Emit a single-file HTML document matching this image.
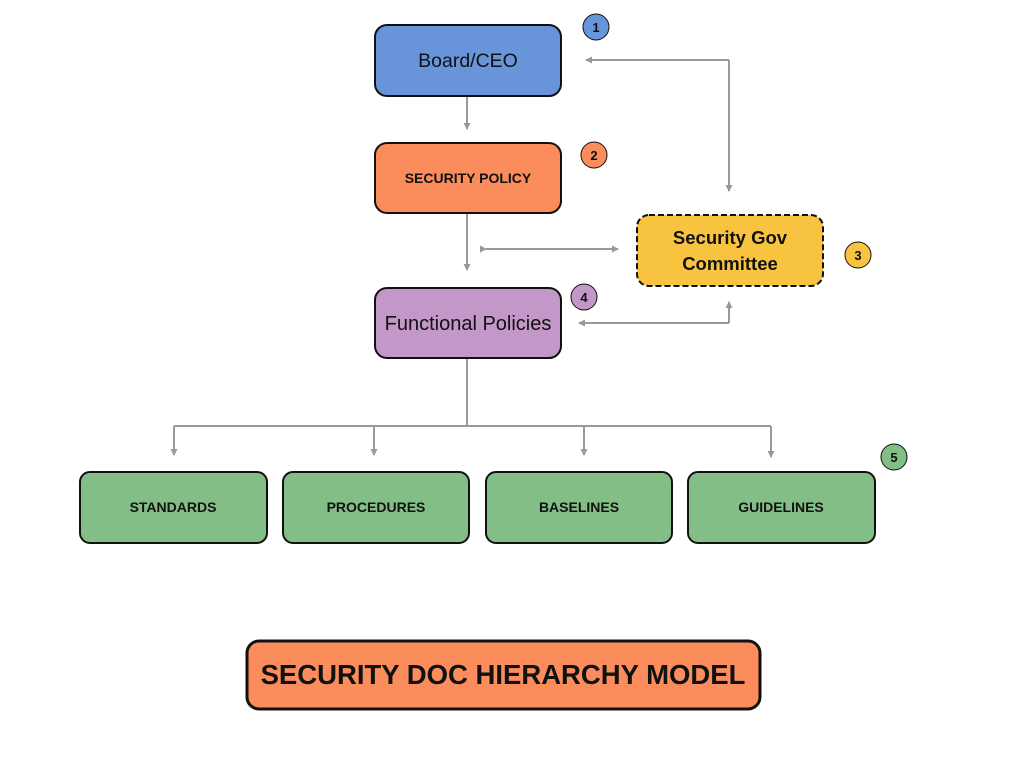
<!DOCTYPE html>
<html><head><meta charset="utf-8"><style>
body{margin:0;width:1024px;height:768px;background:#fff;overflow:hidden}
svg text{font-family:"Liberation Sans",sans-serif}
</style></head><body>
<svg width="1024" height="768" viewBox="0 0 1024 768" xmlns="http://www.w3.org/2000/svg">
<defs><marker id="a" markerWidth="8" markerHeight="8" refX="6" refY="4" orient="auto" markerUnits="userSpaceOnUse"><path d="M0,0.5 L7,4 L0,7.5 z" fill="#999"/></marker></defs>
<g stroke="#999" stroke-width="2" fill="none">
<path d="M467 97 V129" marker-end="url(#a)"/>
<path d="M467 214 V270" marker-end="url(#a)"/>
<path d="M729 60 H586" marker-end="url(#a)"/>
<path d="M729 60 V191" marker-end="url(#a)"/>
<path d="M486 249 H618" marker-end="url(#a)" marker-start="url(#a)"/>
<path d="M729 323 H579" marker-end="url(#a)"/>
<path d="M729 323 V302" marker-end="url(#a)"/>
<path d="M467 359 V426 M174 426 H771"/>
<path d="M174 426 V455" marker-end="url(#a)"/>
<path d="M374 426 V455" marker-end="url(#a)"/>
<path d="M584 426 V455" marker-end="url(#a)"/>
<path d="M771 426 V457" marker-end="url(#a)"/>
</g>
<g stroke="#111" stroke-width="2">
<rect x="375" y="25" width="186" height="71" rx="12" fill="#6895d9"/>
<rect x="375" y="143" width="186" height="70" rx="12" fill="#fb8c5c"/>
<rect x="637" y="215" width="186" height="71" rx="12" fill="#f8c43f" stroke-dasharray="6,3"/>
<rect x="375" y="288" width="186" height="70" rx="12" fill="#c397c7"/>
<rect x="80" y="472" width="187" height="71" rx="10" fill="#83be86"/>
<rect x="283" y="472" width="186" height="71" rx="10" fill="#83be86"/>
<rect x="486" y="472" width="186" height="71" rx="10" fill="#83be86"/>
<rect x="688" y="472" width="187" height="71" rx="10" fill="#83be86"/>
<rect x="247" y="641" width="513" height="68" rx="12" fill="#fb8c5c" stroke-width="3"/>
<g stroke-width="1">
<circle cx="596" cy="27" r="13" fill="#6895d9"/>
<circle cx="594" cy="155" r="13" fill="#fb8c5c"/>
<circle cx="858" cy="255" r="13" fill="#f8c43f"/>
<circle cx="584" cy="297" r="13" fill="#c397c7"/>
<circle cx="894" cy="457" r="13" fill="#83be86"/>
</g></g>
<g fill="#111" text-anchor="middle">
<text x="468" y="67" font-size="19.5">Board/CEO</text>
<text x="468" y="183" font-size="14" font-weight="bold">SECURITY POLICY</text>
<text x="730" y="244" font-size="18.5" font-weight="bold">Security Gov</text>
<text x="730" y="270" font-size="18.5" font-weight="bold">Committee</text>
<text x="468" y="330" font-size="20">Functional Policies</text>
<text x="173" y="512" font-size="14" font-weight="bold">STANDARDS</text>
<text x="376" y="512" font-size="14" font-weight="bold">PROCEDURES</text>
<text x="579" y="512" font-size="14" font-weight="bold">BASELINES</text>
<text x="781" y="512" font-size="14" font-weight="bold">GUIDELINES</text>
<text x="503" y="684" font-size="27.5" font-weight="bold">SECURITY DOC HIERARCHY MODEL</text>
<g font-size="13" font-weight="bold">
<text x="596" y="32">1</text><text x="594" y="160">2</text><text x="858" y="260">3</text><text x="584" y="302">4</text><text x="894" y="462">5</text>
</g></g>
</svg>
</body></html>
